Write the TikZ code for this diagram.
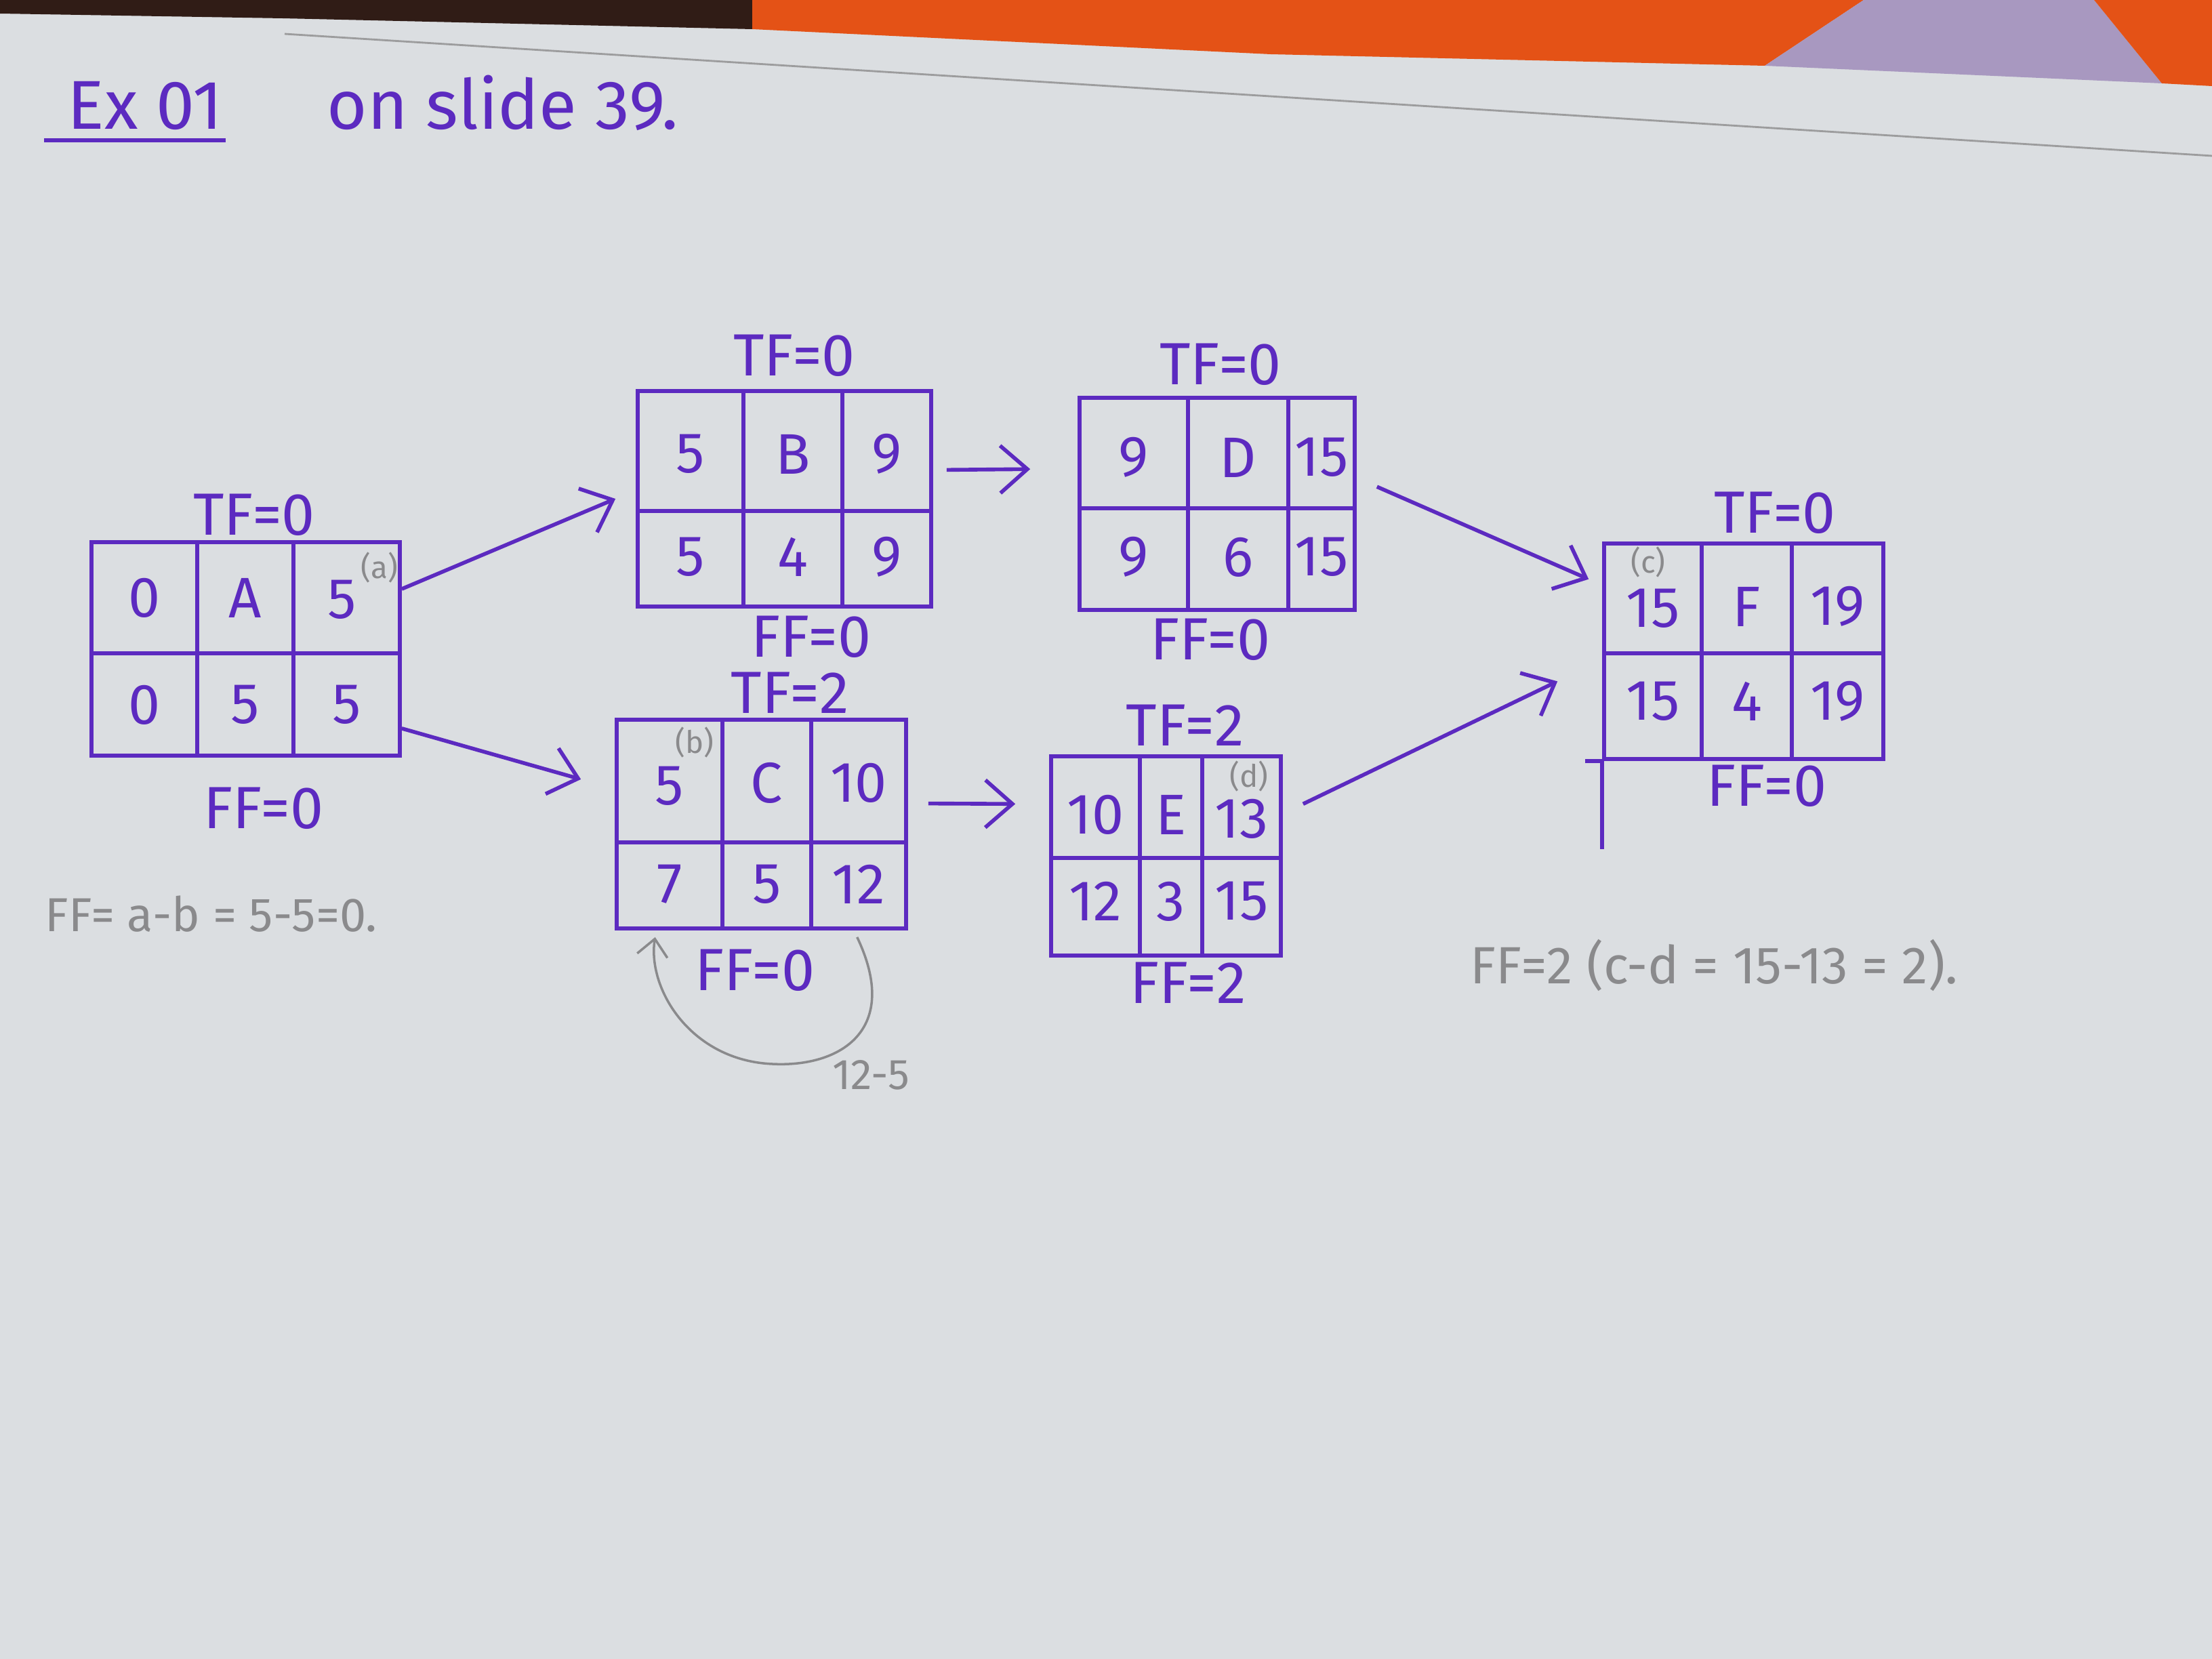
\documentclass[tikz,border=0pt]{standalone}
\usepackage{fontspec}
\setmainfont{Fira Sans}
\usetikzlibrary{arrows.meta}

\definecolor{ink}{RGB}{92,42,192}
\definecolor{pencil}{RGB}{138,138,140}
\definecolor{paper}{RGB}{219,222,225}
\definecolor{boxorange}{RGB}{228,82,22}
\definecolor{tabledark}{RGB}{48,28,22}
\definecolor{lilac}{RGB}{168,152,192}

\begin{document}
\begin{tikzpicture}[>={Straight Barb[length=4mm,width=7mm]}, line width=1.6pt, color=ink,
  actbox/.style={draw=ink, rectangle, inner sep=0pt},
  cell/.style={font=\fontsize{24}{26}\selectfont},
  lbl/.style={font=\fontsize{25}{27}\selectfont},
  title/.style={font=\fontsize{29}{31}\selectfont},
  note/.style={font=\fontsize{20}{22}\selectfont, text=pencil},
  tag/.style={font=\fontsize{13}{15}\selectfont, text=pencil},
  pencilline/.style={draw=pencil, line width=1pt, >={Straight Barb[length=2.5mm,width=4.5mm]}}]

  % paper and what lies behind it
  \useasboundingbox (0,0) rectangle (32.64,-24.48);
  \fill[paper] (0,0) rectangle (32.64,-24.48);
  \fill[tabledark] (0,0) -- (11.1,0) -- (11.1,-0.43) -- (4.17,-0.27) -- (0,-0.2) -- cycle;
  \fill[boxorange] (11.1,0) -- (27.5,0) -- (26.04,-0.97) -- (18.75,-0.80) -- (11.1,-0.43) -- cycle;
  \fill[lilac] (27.5,0) -- (30.9,0) -- (31.9,-1.23) -- (26.04,-0.97) -- cycle;
  \fill[boxorange] (30.9,0) -- (32.64,0) -- (32.64,-1.27) -- (31.9,-1.23) -- cycle;
  \draw[pencil!85, line width=0.8pt] (4.2,-0.5) -- (32.64,-2.3);

  % title
  \node[title, anchor=base west] (ex_no) at (0.85,-1.91) {Ex 01};
  \draw ([xshift=-2mm]ex_no.south west) -- ([xshift=-1mm]ex_no.south east);
  \node[title, anchor=base west] (ex_ref) at (4.68,-1.91) {on slide 39.};

  % A
  \node[actbox, minimum width=4.55cm, minimum height=3.15cm] (A) at (3.625,-9.575) {};
  \draw (1.35,-9.64) -- (5.90,-9.64);
  \draw (2.91,-8.00) -- (2.91,-11.15);
  \draw (4.33,-8.00) -- (4.33,-11.15);
  \node[cell] (a_es) at (2.13,-8.82) {0};
  \node[cell] (a_id) at (3.62,-8.82) {A};
  \node[cell] (a_ef) at (5.05,-8.85) {5};
  \node[cell] (a_ls) at (2.13,-10.40) {0};
  \node[cell] (a_dur) at (3.62,-10.40) {5};
  \node[cell] (a_lf) at (5.12,-10.40) {5};
  \node[lbl] (a_tf) at (3.75,-7.60) {TF=0};
  \node[lbl] (a_ff) at (3.89,-11.93) {FF=0};
  \node[tag] (a_tag) at (5.60,-8.38) {(a)};

  % B
  \node[actbox, minimum width=4.33cm, minimum height=3.18cm] (B) at (11.575,-7.36) {};
  \draw (9.41,-7.54) -- (13.74,-7.54);
  \draw (10.97,-5.77) -- (10.97,-8.95);
  \draw (12.43,-5.77) -- (12.43,-8.95);
  \node[cell] (b_es) at (10.19,-6.70) {5};
  \node[cell] (b_id) at (11.70,-6.70) {B};
  \node[cell] (b_ef) at (13.085,-6.70) {9};
  \node[cell] (b_ls) at (10.19,-8.22) {5};
  \node[cell] (b_dur) at (11.70,-8.22) {4};
  \node[cell] (b_lf) at (13.085,-8.22) {9};
  \node[lbl] (b_tf) at (11.72,-5.25) {TF=0};
  \node[lbl] (b_ff) at (11.97,-9.40) {FF=0};

  % C
  \node[actbox, minimum width=4.27cm, minimum height=3.08cm] (C) at (11.235,-12.16) {};
  \draw (9.10,-12.43) -- (13.37,-12.43);
  \draw (10.66,-10.62) -- (10.66,-13.70);
  \draw (11.97,-10.62) -- (11.97,-13.70);
  \node[cell] (c_es) at (9.88,-11.60) {5};
  \node[cell] (c_id) at (11.315,-11.55) {C};
  \node[cell] (c_ef) at (12.67,-11.55) {10};
  \node[cell] (c_ls) at (9.88,-13.05) {7};
  \node[cell] (c_dur) at (11.315,-13.05) {5};
  \node[cell] (c_lf) at (12.67,-13.05) {12};
  \node[lbl] (c_tf) at (11.66,-10.22) {TF=2};
  \node[lbl] (c_ff) at (11.14,-14.32) {FF=0};
  \node[tag] (c_tag) at (10.25,-10.95) {(b)};

  % D
  \node[actbox, minimum width=4.06cm, minimum height=3.13cm] (D) at (17.96,-7.435) {};
  \draw (15.93,-7.50) -- (19.99,-7.50);
  \draw (17.53,-5.87) -- (17.53,-9.00);
  \draw (19.01,-5.87) -- (19.01,-9.00);
  \node[cell] (d_es) at (16.73,-6.75) {9};
  \node[cell] (d_id) at (18.27,-6.75) {D};
  \node[cell] (d_ef) at (19.50,-6.75) {15};
  \node[cell] (d_ls) at (16.73,-8.22) {9};
  \node[cell] (d_dur) at (18.27,-8.22) {6};
  \node[cell] (d_lf) at (19.50,-8.22) {15};
  \node[lbl] (d_tf) at (18.01,-5.38) {TF=0};
  \node[lbl] (d_ff) at (17.86,-9.44) {FF=0};

  % E
  \node[actbox, minimum width=3.39cm, minimum height=2.94cm] (E) at (17.205,-12.63) {};
  \draw (15.51,-12.66) -- (18.90,-12.66);
  \draw (16.82,-11.16) -- (16.82,-14.10);
  \draw (17.74,-11.16) -- (17.74,-14.10);
  \node[cell] (e_es) at (16.165,-12.02) {10};
  \node[cell] (e_id) at (17.28,-12.02) {E};
  \node[cell] (e_ef) at (18.32,-12.08) {13};
  \node[cell] (e_ls) at (16.165,-13.30) {12};
  \node[cell] (e_dur) at (17.28,-13.30) {3};
  \node[cell] (e_lf) at (18.32,-13.30) {15};
  \node[lbl] (e_tf) at (17.49,-10.70) {TF=2};
  \node[lbl] (e_ff) at (17.53,-14.50) {FF=2};
  \node[tag] (e_tag) at (18.43,-11.45) {(d)};

  % F
  \node[actbox, minimum width=4.12cm, minimum height=3.18cm] (F) at (25.73,-9.61) {};
  \draw (23.67,-9.64) -- (27.79,-9.64);
  \draw (25.11,-8.02) -- (25.11,-11.20);
  \draw (26.44,-8.02) -- (26.44,-11.20);
  \draw (F.south west) -- ++(0,-1.3);
  \draw (F.south west) -- ++(-0.25,0);
  \node[cell] (f_es) at (24.39,-8.98) {15};
  \node[cell] (f_id) at (25.775,-8.95) {F};
  \node[cell] (f_ef) at (27.115,-8.95) {19};
  \node[cell] (f_ls) at (24.39,-10.35) {15};
  \node[cell] (f_dur) at (25.775,-10.35) {4};
  \node[cell] (f_lf) at (27.115,-10.35) {19};
  \node[lbl] (f_tf) at (26.19,-7.57) {TF=0};
  \node[lbl] (f_ff) at (26.07,-11.60) {FF=0};
  \node[tag] (f_tag) at (24.32,-8.30) {(c)};

  % links
  \draw[->] (A.21) -- ([xshift=-3mm]B.west);
  \draw[->] (A.-27.5) -- ([xshift=-5mm]C.163);
  \draw[->] ([xshift=2mm]B.11) -- ([xshift=-7mm]D.166);
  \draw[->] ([xshift=3mm]C.8) -- ([xshift=-5mm]E.156);
  \draw[->] ([xshift=3mm]D.7) -- ([xshift=-2mm]F.153);
  \draw[->] ([xshift=3mm]E.24) -- ([xshift=-6.6mm]F.192);

  % pencil working
  \draw[pencilline, ->] ([yshift=-1mm]C.-48) .. controls (13.3,-15.2) and (12.4,-15.75) .. (11.4,-15.7)
    .. controls (10.2,-15.65) and (9.55,-14.6) .. ([yshift=-1mm]C.-135);
  \node[note, font=\fontsize{18}{20}\selectfont, anchor=base west] (c_calc) at (12.14,-16.07) {12-5};
  \node[note, anchor=base west] (a_note) at (0.52,-13.74) {FF= a-b = 5-5=0.};
  \node[note, font=\fontsize{22}{24}\selectfont, anchor=base west] (e_note) at (21.55,-14.51) {FF=2 (c-d = 15-13 = 2).};
\end{tikzpicture}
\end{document}
